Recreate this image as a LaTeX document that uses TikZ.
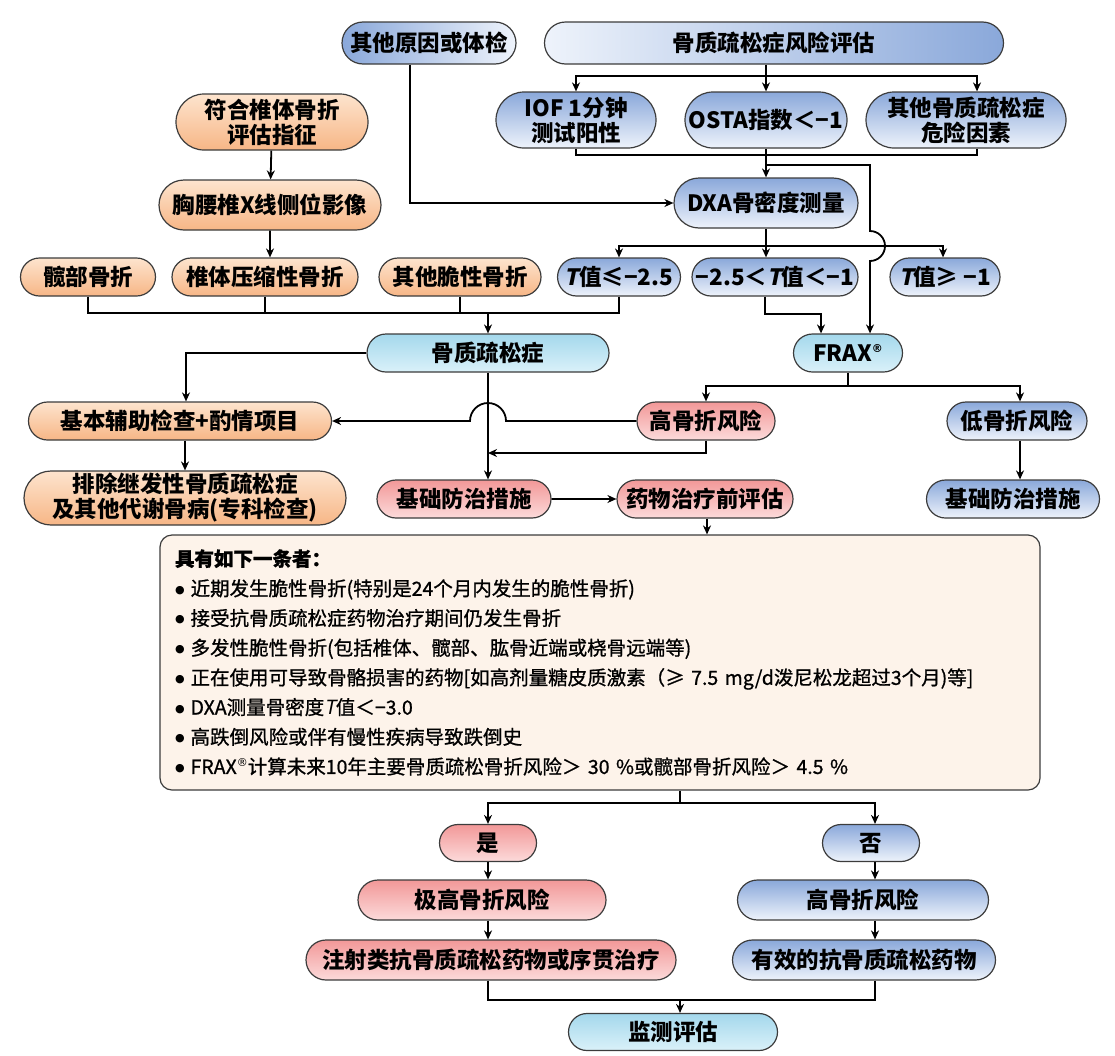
\documentclass[tikz,border=0pt]{standalone}
\usepackage{fontspec}
\setmainfont{Noto Sans CJK SC}
\newfontfamily\tfont{Noto Sans CJK SC}[FakeSlant=0.2]
\newfontfamily\listcjk{Noto Sans CJK SC}[FakeBold=0.9]
\newfontfamily\dvfont{DejaVu Sans}
\usetikzlibrary{shapes.misc,arrows.meta,calc}
\definecolor{edge}{RGB}{60,60,60}
\definecolor{bluedk}{RGB}{138,168,218}
\definecolor{bluelt}{RGB}{238,243,251}
\definecolor{oratop}{RGB}{253,228,206}
\definecolor{orabot}{RGB}{247,182,134}
\definecolor{redtop}{RGB}{242,152,152}
\definecolor{redbot}{RGB}{252,218,218}
\definecolor{cyantop}{RGB}{164,216,236}
\definecolor{cyanbot}{RGB}{218,241,249}
\definecolor{cream}{RGB}{253,243,234}
\newcommand\lbl{\bfseries\fontsize{22.5}{25}\selectfont}
\newcommand\listfont{\listcjk\fontsize{19.5}{29.7}\selectfont}
\newcommand\Tval{{\tfont\bfseries T}}
\newcommand\reg{\raisebox{0.7ex}{\dvfont\fontsize{11}{11}\selectfont ®}}
\newcommand\bul{\raisebox{2.5pt}{\dvfont\fontsize{11}{11}\selectfont ●}\hspace{6pt}}

\begin{document}
\begin{tikzpicture}[x=1pt,y=1pt,
	box/.style={rounded rectangle, draw=edge, line width=1.2pt, font=\lbl, align=center, inner xsep=4pt, inner ysep=1pt, minimum height=38pt},
	bluebox/.style={box, top color=bluedk, bottom color=bluelt},
	bluelr/.style={box, left color=bluedk, right color=bluelt},
	bluerl/.style={box, left color=bluelt, right color=bluedk},
	orabox/.style={box, top color=oratop, bottom color=orabot},
	redbox/.style={box, top color=redtop, bottom color=redbot},
	cyanbox/.style={box, top color=cyantop, bottom color=cyanbot},
	critbox/.style={rectangle, rounded corners=12pt, draw=edge, line width=1.2pt, fill=cream, minimum width=880pt, minimum height=255pt, text width=850pt, align=left, font=\listfont, inner sep=0pt},
	line width=1.8pt, >={Stealth[length=9pt,width=8pt]}]
	\useasboundingbox (0,0) rectangle (1115,-1055);

	%Nodes
	\node[bluelr, minimum width=182pt, minimum height=42pt]	(cause)	at (429,-43) {其他原因或体检};
	\node[bluerl, minimum width=467pt, minimum height=42pt]	(risk)	at (774,-43) {骨质疏松症风险评估};
	\node[bluebox, minimum width=168pt, minimum height=56pt]	(iof)	at (576,-120) {IOF 1分钟\\测试阳性};
	\node[bluebox, minimum width=170pt, minimum height=56pt]	(osta)	at (766,-120) {OSTA指数＜−1};
	\node[bluebox, minimum width=208pt, minimum height=56pt]	(rf)	at (966,-120) {其他骨质疏松症\\危险因素};
	\node[orabox, minimum width=200pt, minimum height=56pt]	(ind)	at (272,-122) {符合椎体骨折\\评估指征};
	\node[orabox, minimum width=230pt, minimum height=50pt]	(xr)	at (270,-205) {胸腰椎X线侧位影像};
	\node[bluebox, minimum width=192pt, minimum height=50pt]	(dxa)	at (766,-203) {DXA骨密度测量};
	\node[orabox, minimum width=143pt]	(hip)	at (88,-277) {髋部骨折};
	\node[orabox, minimum width=194pt]	(vcf)	at (265,-277) {椎体压缩性骨折};
	\node[orabox, minimum width=170pt]	(ofx)	at (460,-277) {其他脆性骨折};
	\node[bluebox, minimum width=118pt]	(t1)	at (619,-277) {\Tval 值≤−2.5};
	\node[bluebox, minimum width=174pt]	(t2)	at (775,-277) {−2.5＜\Tval 值＜−1};
	\node[bluebox, minimum width=118pt]	(t3)	at (945,-277) {\Tval 值≥ −1};
	\node[cyanbox, minimum width=250pt]	(op)	at (488,-353) {骨质疏松症};
	\node[cyanbox, minimum width=117pt]	(frax)	at (848,-353) {FRAX\reg};
	\node[orabox, minimum width=311pt]	(aux)	at (180,-421) {基本辅助检查+酌情项目};
	\node[redbox, minimum width=146pt]	(hr)	at (706,-421) {高骨折风险};
	\node[bluebox, minimum width=148pt]	(lr)	at (1017,-421) {低骨折风险};
	\node[orabox, minimum width=330pt, minimum height=54pt]	(sec)	at (185,-498) {排除继发性骨质疏松症\\及其他代谢骨病(专科检查)};
	\node[redbox, minimum width=182pt]	(bas)	at (464,-499) {基础防治措施};
	\node[redbox, minimum width=184pt]	(pre)	at (705,-499) {药物治疗前评估};
	\node[bluebox, minimum width=181pt]	(bas2)	at (1013,-499) {基础防治措施};
	\node[critbox]	(crit)	at (600,-662.5) {\textbf{具有如下一条者：}\\
		\bul 近期发生脆性骨折(特别是24个月内发生的脆性骨折)\\
		\bul 接受抗骨质疏松症药物治疗期间仍发生骨折\\
		\bul 多发性脆性骨折(包括椎体、髋部、肱骨近端或桡骨远端等)\\
		\bul 正在使用可导致骨骼损害的药物[如高剂量糖皮质激素（≥ 7.5 mg/d泼尼松龙超过3个月)等]\\
		\bul DXA测量骨密度{\tfont T}值＜−3.0\\
		\bul 高跌倒风险或伴有慢性疾病导致跌倒史\\
		\bul FRAX\reg 计算未来10年主要骨质疏松骨折风险＞ 30 \%或髋部骨折风险＞ 4.5 \%};
	\node[redbox, minimum width=105pt, minimum height=37pt]	(yes)	at (488,-843) {是};
	\node[bluebox, minimum width=105pt, minimum height=37pt]	(no)	at (871,-843) {否};
	\node[redbox, minimum width=256pt, minimum height=40pt]	(vhr)	at (482,-900) {极高骨折风险};
	\node[bluebox, minimum width=259pt, minimum height=40pt]	(hr2)	at (863,-900) {高骨折风险};
	\node[redbox, minimum width=378pt, minimum height=40pt]	(inj)	at (491,-960) {注射类抗骨质疏松药物或序贯治疗};
	\node[bluebox, minimum width=271pt, minimum height=40pt]	(eff)	at (864,-960) {有效的抗骨质疏松药物};
	\node[cyanbox, minimum width=217pt, minimum height=37pt]	(mon)	at (673,-1032) {监测评估};

	%Junctions
	\coordinate (rj) at (766,-76);
	\coordinate (bj) at (766,-155);
	\coordinate (fj) at (766,-165);
	\coordinate (dj) at (766,-246);
	\coordinate (lj) at (488,-313);
	\coordinate (rj2) at (488,-453);
	\coordinate (cj) at (680,-803);
	\coordinate (mj) at (680,-1000);
	\coordinate (lx) at (488,0);
	\coordinate (rx) at (875,0);

	%Lines
	\draw[->] ([xshift=-19pt]cause.south) |- (dxa.west);
	\draw (risk.south -| rj) -- (rj);
	\draw[->] (rj) -| (iof.north);
	\draw[->] (rj) -- (osta.north);
	\draw[->] (rj) -| ([xshift=11pt]rf.north);
	\draw (iof.south) |- (bj);
	\draw ([xshift=11pt]rf.south) |- (bj);
	\draw (osta.south) -- (bj);
	\draw[->] (bj) -- (dxa.north);
	\draw[->] (fj) -- (870,-165) -- (870,-231) arc[start angle=90, end angle=-90, radius=15] -- ([xshift=22pt]frax.north);
	\draw (dxa.south) -- (dj);
	\draw[->] (dj) -| (t1.north);
	\draw[->] (dj) -- (dj |- t2.north);
	\draw[->] (dj) -| ([xshift=-2pt]t3.north);
	\draw[->] (ind) -- (xr);
	\draw[->] (xr) -- (xr.south |- vcf.north);
	\draw (hip.south) |- (lj);
	\draw (vcf.south) -- (vcf.south |- lj);
	\draw (ofx.south) -- (ofx.south |- lj);
	\draw (t1.south) |- (lj);
	\draw[->] (lj) -- (op.north);
	\draw[->] ([xshift=-10pt]t2.south) -- ++(0,-17) -| ([xshift=-27pt]frax.north);
	\draw (frax.south) -- ++(0,-13) coordinate (xj);
	\draw[->] (xj) -| (hr.north);
	\draw[->] (xj) -| ([xshift=3pt]lr.north);
	\draw[->] (op.west) -| ([xshift=6pt]aux.north);
	\draw[->] (sec.north |- aux.south) -- (sec.north);
	\draw[->] (op.south) -- (op.south |- bas.north);
	\draw[->] (hr.west) -- ($(op.south |- hr.west)+(18,0)$) arc[start angle=0, end angle=180, radius=18] -- (aux.east);
	\draw[->] (hr.south) |- (rj2);
	\draw[->] ([xshift=3pt]lr.south) -- ([xshift=3pt]lr.south |- bas2.north);
	\draw[->] (bas) -- (pre);
	\draw[->] ([xshift=2pt]pre.south) -- ([xshift=2pt]pre.south |- crit.north);
	\draw (crit.south -| cj) -- (cj);
	\draw[->] (cj) -| (yes.north);
	\draw[->] (cj) -| (no.north -| rx);
	\draw[->] (yes.south) -- (vhr.north -| lx);
	\draw[->] (no.south -| rx) -- (hr2.north -| rx);
	\draw[->] (vhr.south -| lx) -- (inj.north -| lx);
	\draw[->] (hr2.south -| rx) -- (eff.north -| rx);
	\draw (inj.south -| lx) |- (mj);
	\draw (eff.south -| rx) |- (mj);
	\draw[->] (mj) -- (mon.north -| mj);
\end{tikzpicture}
\end{document}
